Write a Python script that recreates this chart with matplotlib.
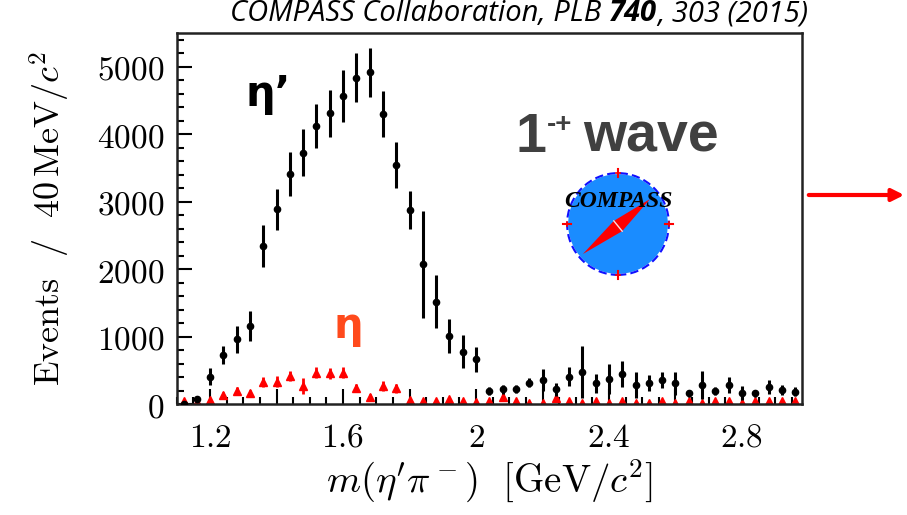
import numpy as np
import matplotlib
matplotlib.use("Agg")
import matplotlib.pyplot as plt
from matplotlib.patches import Circle, Polygon, FancyArrowPatch

plt.rcParams['mathtext.fontset'] = 'cm'

# m(eta' pi) bin centres, 40 MeV bins
mass = [1.12, 1.16, 1.20, 1.24, 1.28, 1.32, 1.36, 1.40, 1.44, 1.48, 1.52, 1.56,
        1.60, 1.64, 1.68, 1.72, 1.76, 1.80, 1.84, 1.88, 1.92, 1.96, 2.00, 2.04,
        2.08, 2.12, 2.16, 2.20, 2.24, 2.28, 2.32, 2.36, 2.40, 2.44, 2.48, 2.52,
        2.56, 2.60, 2.64, 2.68, 2.72, 2.76, 2.80, 2.84, 2.88, 2.92, 2.96]

# eta' pi  1-+ wave intensity
etap = [0, 70, 405, 727, 960, 1157, 2344, 2889, 3412, 3729, 4125, 4312,
        4570, 4842, 4921, 4303, 3546, 2878, 2072, 1518, 1009, 776, 663, 198,
        218, 218, 317, 356, 218, 405, 480, 307, 371, 445, 282, 307,
        356, 307, 158, 282, 198, 282, 168, 158, 247, 208, 183]
etap_err = [0, 40, 124, 134, 198, 228, 307, 307, 321, 346, 321, 351,
            386, 366, 366, 346, 336, 287, 791, 390, 257, 242, 183, 60,
            70, 60, 69, 168, 100, 140, 386, 143, 228, 188, 193, 119,
            124, 168, 50, 208, 60, 119, 104, 50, 104, 80, 70]

# eta pi  1-+ wave intensity
eta = [50, 30, 60, 134, 198, 158, 331, 331, 415, 267, 465, 455,
       465, 233, 109, 267, 233, 60, 50, 50, 70, 50, 30, 40,
       100, 50, 20, 20, 90, 40, 10, 40, 20, 50, 20, 10,
       40, 10, 40, 10, 40, 40, 20, 40, 40, 40, 50]
eta_err = [20, 20, 30, 40, 50, 50, 74, 80, 80, 119, 80, 80,
           80, 60, 40, 70, 70, 30, 20, 20, 30, 20, 20, 30,
           60, 30, 20, 20, 50, 20, 20, 20, 20, 30, 20, 20,
           20, 20, 20, 20, 20, 20, 20, 20, 20, 20, 20]

xticks = [1.2, 1.4, 1.6, 1.8, 2.0, 2.2, 2.4, 2.6, 2.8]
xticklabels = ['1.2', '', '1.6', '', '2', '', '2.4', '', '2.8']
yticks = [0, 1000, 2000, 3000, 4000, 5000]

fig = plt.figure(figsize=(9.07, 5.15), dpi=100)
ax = fig.add_axes([0.195, 0.2155, 0.689, 0.72])

ax.errorbar(mass, eta, yerr=eta_err, fmt='^', color='red', ms=5.5, elinewidth=2, capsize=0, zorder=2)
ax.errorbar(mass, etap, yerr=etap_err, fmt='o', color='black', ms=4.5, elinewidth=2.2, capsize=0, zorder=3)

ax.set_xlim(1.1, 2.98)
ax.set_ylim(0, 5500)
ax.set_xticks(xticks)
ax.set_xticklabels(['$%s$' % t if t else '' for t in xticklabels], fontsize=24)
ax.set_xticks(np.arange(1.1, 2.98, 0.05), minor=True)
ax.set_yticks(yticks)
ax.set_yticklabels(['$%d$' % t for t in yticks], fontsize=24)
ax.set_yticks(np.arange(0, 5500, 200), minor=True)
ax.tick_params(which='both', direction='in', top=False, right=False, width=1.5)
ax.tick_params(which='major', length=11)
ax.tick_params(which='minor', length=5)
ax.tick_params(axis='x', which='major', pad=12)
ax.tick_params(axis='y', which='major', pad=9)
for s in ax.spines.values():
    s.set_linewidth(1.8)
    s.set_color('#222222')

ax.set_xlabel(r'$m(\eta^\prime\pi^-)\ \ [\mathrm{GeV}/c^2]$', fontsize=28, labelpad=3)
ax.set_ylabel(r'$\mathrm{Events\ \ /\ \ 40\,MeV}/c^2$', fontsize=26, labelpad=18)

# labels inside the plot
ax.text(0.11, 0.835, "η’", transform=ax.transAxes, fontsize=30, fontweight='bold',
        family='DejaVu Sans', color='black', va='center')
ax.text(0.25, 0.21, "η", transform=ax.transAxes, fontsize=30, fontweight='bold',
        family='DejaVu Sans', color='#ff4a1c', va='center')

t1 = ax.text(0.542, 0.68, "1", transform=ax.transAxes, fontsize=40, fontweight='bold',
             family='Liberation Sans', color='#404040', va='baseline')
t2 = ax.annotate("-+", xycoords=t1, xy=(1, 1.0), fontsize=20, fontweight='bold',
                 family='Liberation Sans', color='#404040', va='top')
ax.annotate("wave", xycoords=(t2, t1), xy=(1, 0), xytext=(8, 0), textcoords='offset points',
            fontsize=40, fontweight='bold', family='Liberation Sans', color='#404040', va='bottom')

# title
h1 = fig.text(0.2536, 1 - 21 / 515, "COMPASS Collaboration, PLB ", fontsize=21, style='italic',
              family='Open Sans', va='baseline')
h2 = ax.annotate("740", xycoords=h1, xy=(1, 0), fontsize=21, style='italic',
                 fontweight='bold', family='Open Sans', va='bottom', annotation_clip=False)
ax.annotate(", 303 (2015)", xycoords=h2, xy=(1, 0), fontsize=21, style='italic',
            family='Open Sans', va='bottom', annotation_clip=False)

# COMPASS logo
lg = fig.add_axes([(618 - 57) / 907, (515 - 224 - 57) / 515, 114 / 907, 114 / 515])
lg.set_xlim(-1.12, 1.12)
lg.set_ylim(-1.12, 1.12)
lg.set_aspect('equal')
lg.axis('off')
lg.add_patch(Circle((0, 0), 1, facecolor='#1a8cff', edgecolor='white', lw=1.5))
lg.add_patch(Circle((0, 0), 1, facecolor='none', edgecolor='#1010ff', lw=1.5, ls=(0, (4, 2))))
for a in [0, 90, 180, 270]:
    c, s = np.cos(np.radians(a)), np.sin(np.radians(a))
    lg.plot([0.92 * c, 1.08 * c], [0.92 * s, 1.08 * s], color='red', lw=1.5)
    lg.plot([c - 0.04 * s, c + 0.04 * s], [s - 0.04 * c, s + 0.04 * c], color='red', lw=1.2)
p1 = np.array([-0.69, -0.59])
p2 = np.array([0.63, 0.49])
d = (p2 - p1) / np.linalg.norm(p2 - p1)
n = np.array([-d[1], d[0]])
mid = np.array([0.0, -0.04])
lg.add_patch(Polygon([p1, mid + 0.13 * n, p2, mid - 0.13 * n], closed=True, facecolor='red', edgecolor='none'))
lg.plot([mid[0] + 0.13 * n[0], mid[0] - 0.13 * n[0]], [mid[1] + 0.13 * n[1], mid[1] - 0.13 * n[1]], color='#ffdddd', lw=1)
lg.text(0, 0.45, "COMPASS", ha='center', va='center', fontsize=17, fontweight='bold',
        style='italic', family='Liberation Serif', color='black')

# arrow on the right
fig.add_artist(FancyArrowPatch((806 / 907, 1 - 195 / 515), (907 / 907, 1 - 195 / 515),
                               transform=fig.transFigure, arrowstyle='-|>',
                               mutation_scale=18, color='red', lw=3))

fig.savefig('out.png', dpi=100)
